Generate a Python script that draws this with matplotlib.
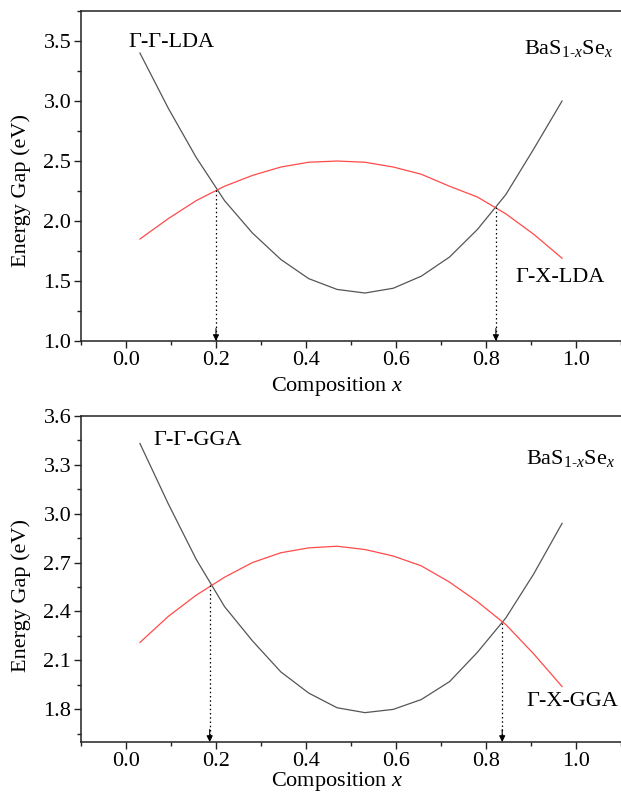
import matplotlib
matplotlib.use("Agg")
import matplotlib.pyplot as plt
from matplotlib.ticker import MultipleLocator

plt.rcParams["font.family"] = ["Liberation Serif", "DejaVu Serif"]
plt.rcParams["mathtext.fontset"] = "custom"
plt.rcParams["mathtext.rm"] = "Liberation Serif"
plt.rcParams["mathtext.it"] = "Liberation Serif:italic"

# ── data ──────────────────────────────────────────────
comp_x = [0.031, 0.094, 0.156, 0.219, 0.281, 0.344, 0.406, 0.469,
          0.531, 0.594, 0.656, 0.719, 0.781, 0.844, 0.906, 0.969]

gg_lda = [3.40, 2.94, 2.53, 2.17, 1.90, 1.68, 1.52, 1.43,
          1.40, 1.44, 1.54, 1.70, 1.93, 2.22, 2.60, 3.00]
gx_lda = [1.85, 2.02, 2.17, 2.29, 2.38, 2.45, 2.49, 2.50,
          2.49, 2.45, 2.39, 2.29, 2.20, 2.06, 1.89, 1.69]

gg_gga = [3.43, 3.06, 2.72, 2.43, 2.22, 2.03, 1.90, 1.81,
          1.78, 1.80, 1.86, 1.97, 2.15, 2.36, 2.63, 2.94]
gx_gga = [2.21, 2.37, 2.50, 2.61, 2.70, 2.76, 2.79, 2.80,
          2.78, 2.74, 2.68, 2.58, 2.46, 2.32, 2.14, 1.94]

# crossing points (x, Eg) marked with dotted arrows
cross_lda_x = [0.200, 0.822]
cross_lda_y = [2.26, 2.115]
cross_gga_x = [0.186, 0.836]
cross_gga_y = [2.565, 2.33]

FS = 16

fig = plt.figure(figsize=(6.21, 7.94), dpi=100)
ax1 = fig.add_axes([0.1304, 0.5705, 0.8696, 0.4156])
ax2 = fig.add_axes([0.1304, 0.0655, 0.8696, 0.4109])


def style(ax, ylim, ymaj, ymin, ylab_y, xlab_y):
    ax.set_xlim(-0.1, 1.1)
    ax.set_ylim(*ylim)
    ax.xaxis.set_major_locator(MultipleLocator(0.2))
    ax.xaxis.set_minor_locator(MultipleLocator(0.1))
    ax.yaxis.set_major_locator(MultipleLocator(ymaj))
    ax.yaxis.set_minor_locator(MultipleLocator(ymin))
    ax.xaxis.set_major_formatter(plt.FuncFormatter(lambda v, _: f"{v:.1f}"))
    ax.yaxis.set_major_formatter(plt.FuncFormatter(lambda v, _: f"{v:.1f}"))
    ax.tick_params(which="both", direction="out", labelsize=FS, width=1.0,
                   color="#222222", top=False, right=False, pad=2)
    ax.tick_params(which="major", length=5)
    ax.tick_params(which="minor", length=3)
    for s in ("left", "bottom", "top"):
        ax.spines[s].set_linewidth(1.1)
        ax.spines[s].set_color("#222222")
    ax.spines["right"].set_visible(False)
    ax.set_xlabel("Composition $x$", fontsize=FS)
    ax.xaxis.set_label_coords(0.474, xlab_y)
    ax.set_ylabel("Energy Gap (eV)", fontsize=FS)
    ax.yaxis.set_label_coords(-0.092, ylab_y)


def arrows(ax, xs, ys):
    y0 = ax.get_ylim()[0]
    for x, y in zip(xs, ys):
        ax.plot([x, x], [y, y0], ls=(0, (1.2, 2.2)), color="black", lw=0.9)
        ax.annotate("", xy=(x, y0), xytext=(0, 9), textcoords="offset points",
                    xycoords="data",
                    arrowprops=dict(arrowstyle="-|>", color="black", lw=0.8,
                                    mutation_scale=9, shrinkA=0, shrinkB=0))


# ── (1) LDA ───────────────────────────────────────────
style(ax1, (1.0, 3.75), 0.5, 0.25, 0.455, -0.103)
ax1.plot(comp_x, gg_lda, color="#555555", lw=0.9)
ax1.plot(comp_x, gx_lda, color="#ff4a4a", lw=0.9)
arrows(ax1, cross_lda_x, cross_lda_y)
ax1.text(0.006, 3.49, "Γ-Γ-LDA", fontsize=FS, va="center", ha="left")
ax1.text(0.885, 3.44, "BaS$_{1\\text{-}x}$Se$_x$", fontsize=FS, va="center", ha="left")
ax1.text(0.865, 1.53, "Γ-X-LDA", fontsize=FS, va="center", ha="left")

# ── (2) GGA ───────────────────────────────────────────
style(ax2, (1.6, 3.6), 0.3, 0.15, 0.45, -0.086)
ax2.plot(comp_x, gg_gga, color="#555555", lw=0.9)
ax2.plot(comp_x, gx_gga, color="#ff4a4a", lw=0.9)
arrows(ax2, cross_gga_x, cross_gga_y)
ax2.text(0.06, 3.45, "Γ-Γ-GGA", fontsize=FS, va="center", ha="left")
ax2.text(0.89, 3.34, "BaS$_{1\\text{-}x}$Se$_x$", fontsize=FS, va="center", ha="left")
ax2.text(0.89, 1.85, "Γ-X-GGA", fontsize=FS, va="center", ha="left")

fig.savefig("out.png", dpi=100)
